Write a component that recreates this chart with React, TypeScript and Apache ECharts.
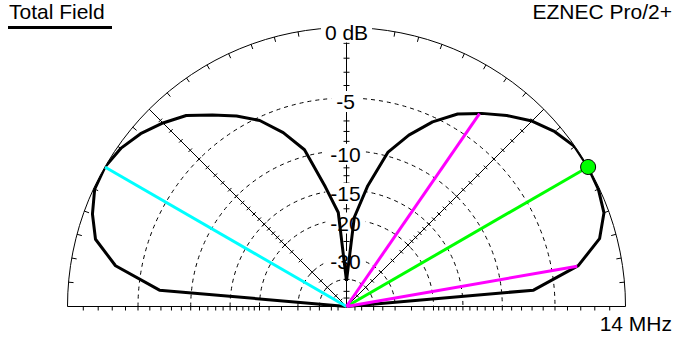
import React, { useEffect, useRef } from "react";
import * as echarts from "echarts";

// Elevation pattern (ARRL log scale), angle in degrees from right horizon, gain in dB
const patternAngles = [0, 5, 10, 15, 20, 25, 30, 35, 40, 45, 50, 55, 60, 65, 70, 75, 80, 85, 90,
  95, 100, 105, 110, 115, 120, 125, 130, 135, 140, 145, 150, 155, 160, 165, 170, 175, 180];
const patternDb = [-100, -6.8, -2.92, -1.08, -0.31, -0.07, 0, -0.02, -0.44, -1.06, -1.93, -2.89, -3.9, -5.4, -7.3, -9.6, -14.1, -19.5, -41,
  -18.6, -14.3, -9.3, -7.05, -5.27, -4.08, -3.03, -1.93, -1.24, -0.64, -0.21, 0, -0.07, -0.54, -1.22, -2.98, -6.8, -100];

const ringLevels = [-5, -10, -15, -20, -30, -40];
const labelLevels = [-5, -10, -15, -20, -30];
const labelTexts = ["-5", "-10", "-15", "-20", "-30"];
const scaleTicks = [-1, -2, -3, -4, -5, -6, -7, -8, -9, -10, -11, -12, -13, -14, -15, -16, -17, -18, -19, -20,
  -22, -25, -30, -35, -40, -50, -60];
const rimTicks = [5, 10, 15, 20, 25, 30, 35, 40, 45, 50, 55, 60, 65, 70, 75, 80, 85, 95, 100, 105, 110, 115,
  120, 125, 130, 135, 140, 145, 150, 155, 160, 165, 170, 175];
const radialAngles = [45, 135];

const maxAngle = 30;
const maxDb = 0;
const secondAngle = 150;
const secondDb = 0;
const beamAngles = [55.4, 9.9];
const beamDb = -3;

const titleText = "Total Field";
const brandText = "EZNEC Pro/2+";
const freqText = "14 MHz";
const zeroText = "0 dB";

const FONT = '21px "Liberation Sans", Arial, sans-serif';

const toR = (db: number) => (db <= -100 ? 0 : Math.pow(0.89, -db / 2));

export default function App() {
  const ref = useRef<HTMLDivElement>(null);
  useEffect(() => {
    if (!ref.current) return;
    const chart = echarts.init(ref.current, undefined, { renderer: "svg" });

    const gridRender = (params: any, api: any) => {
      const cs = params.coordSys;
      const cx = cs.cx;
      const cy = cs.cy;
      const rad = (db: number) => api.coord([toR(db), 0])[0] - cx;
      const R = rad(0);
      const ch: any[] = [];
      const thin = { stroke: "#000", lineWidth: 1, fill: null };
      // outer arc
      ch.push({ type: "arc", shape: { cx, cy, r: R, startAngle: Math.PI, endAngle: 2 * Math.PI, clockwise: true }, style: thin });
      ringLevels.forEach((db) => {
        ch.push({
          type: "arc",
          shape: { cx, cy, r: rad(db), startAngle: Math.PI, endAngle: 2 * Math.PI, clockwise: true },
          style: { stroke: "#000", lineWidth: 1, fill: null, lineDash: [4, 4] },
        });
      });
      // baseline
      ch.push({ type: "line", shape: { x1: cx - R, y1: cy, x2: cx + R, y2: cy }, style: thin });
      scaleTicks.forEach((db) => {
        const r = rad(db);
        ch.push({ type: "line", shape: { x1: cx - r, y1: cy, x2: cx - r, y2: cy + 4 }, style: thin });
        ch.push({ type: "line", shape: { x1: cx + r, y1: cy, x2: cx + r, y2: cy + 4 }, style: thin });
      });
      // rim ticks
      rimTicks.forEach((a) => {
        const p1 = api.coord([1, a]);
        const p2 = api.coord([1 - 5 / R, a]);
        ch.push({ type: "line", shape: { x1: p1[0], y1: p1[1], x2: p2[0], y2: p2[1] }, style: thin });
      });
      // radial lines with ticks
      radialAngles.concat([90]).forEach((a) => {
        const p = api.coord([1, a]);
        ch.push({ type: "line", shape: { x1: cx, y1: cy, x2: p[0], y2: p[1] }, style: thin });
        const t = (a * Math.PI) / 180;
        const nx = Math.sin(t);
        const ny = Math.cos(t);
        const len = a === 90 ? 3 : 2.5;
        scaleTicks.forEach((db) => {
          const q = api.coord([toR(db), a]);
          ch.push({
            type: "line",
            shape: { x1: q[0] - nx * len, y1: q[1] - ny * len, x2: q[0] + nx * len, y2: q[1] + ny * len },
            style: thin,
          });
        });
      });
      // labels
      const lab = (text: string, x: number, y: number, pad: number[]) => ({
        type: "text",
        style: {
          text, x, y, font: FONT, fill: "#000",
          align: "center", verticalAlign: "middle", textAlign: "center", textVerticalAlign: "middle",
          backgroundColor: "#fff", padding: pad,
        },
      });
      labelLevels.forEach((db, i) => {
        ch.push(lab(labelTexts[i], cx - 1, cy - rad(db) + 3.5, [0, 5]));
      });
      ch.push(lab(zeroText, cx, cy - R + 4.5, [0, 4]));
      return { type: "group", children: ch };
    };

    const patternData = patternAngles.map((a, i) => [toR(patternDb[i]), a]);
    const lineSeries = (data: number[][], color: string) => ({
      type: "line",
      coordinateSystem: "polar",
      data,
      symbol: "none",
      lineStyle: { color, width: 3 },
      z: 4,
      silent: true,
    });

    chart.setOption({
      animation: false,
      polar: { center: [346.5, 306.5], radius: 279 },
      radiusAxis: { type: "value", min: 0, max: 1, show: false },
      angleAxis: { type: "value", min: 0, max: 360, startAngle: 0, clockwise: false, show: false },
      graphic: [
        {
          type: "text",
          style: {
            text: titleText, x: 9, y: 11, font: FONT, fill: "#000",
            align: "left", verticalAlign: "middle", textAlign: "left", textVerticalAlign: "middle",
          },
        },
        { type: "rect", shape: { x: 8, y: 26, width: 104, height: 3 }, style: { fill: "#000" } },
        {
          type: "text",
          style: {
            text: brandText, x: 672, y: 11.5, font: FONT, fill: "#000",
            align: "right", verticalAlign: "middle", textAlign: "right", textVerticalAlign: "middle",
          },
        },
        {
          type: "text",
          style: {
            text: freqText, x: 672, y: 323, font: FONT, fill: "#000",
            align: "right", verticalAlign: "middle", textAlign: "right", textVerticalAlign: "middle",
          },
        },
      ],
      series: [
        {
          type: "custom",
          coordinateSystem: "polar",
          data: [[0, 0]],
          renderItem: gridRender,
          z: 1,
          silent: true,
        },
        { ...lineSeries(patternData, "#000"), z: 3 },
        lineSeries([[0, 0], [toR(secondDb), secondAngle]], "#00ffff"),
        lineSeries([[0, 0], [toR(maxDb), maxAngle]], "#00ff00"),
        ...beamAngles.map((a) => lineSeries([[0, 0], [toR(beamDb), a]], "#ff00ff")),
        {
          type: "scatter",
          coordinateSystem: "polar",
          data: [[toR(maxDb), maxAngle]],
          symbol: "circle",
          symbolSize: 15,
          itemStyle: { color: "#00ff00", borderColor: "#000", borderWidth: 1, opacity: 1 },
          z: 5,
          silent: true,
        },
      ],
    });
    return () => chart.dispose();
  }, []);
  return <div ref={ref} style={{ position: "absolute", left: 0, top: 0, width: 692, height: 346 }} />;
}
